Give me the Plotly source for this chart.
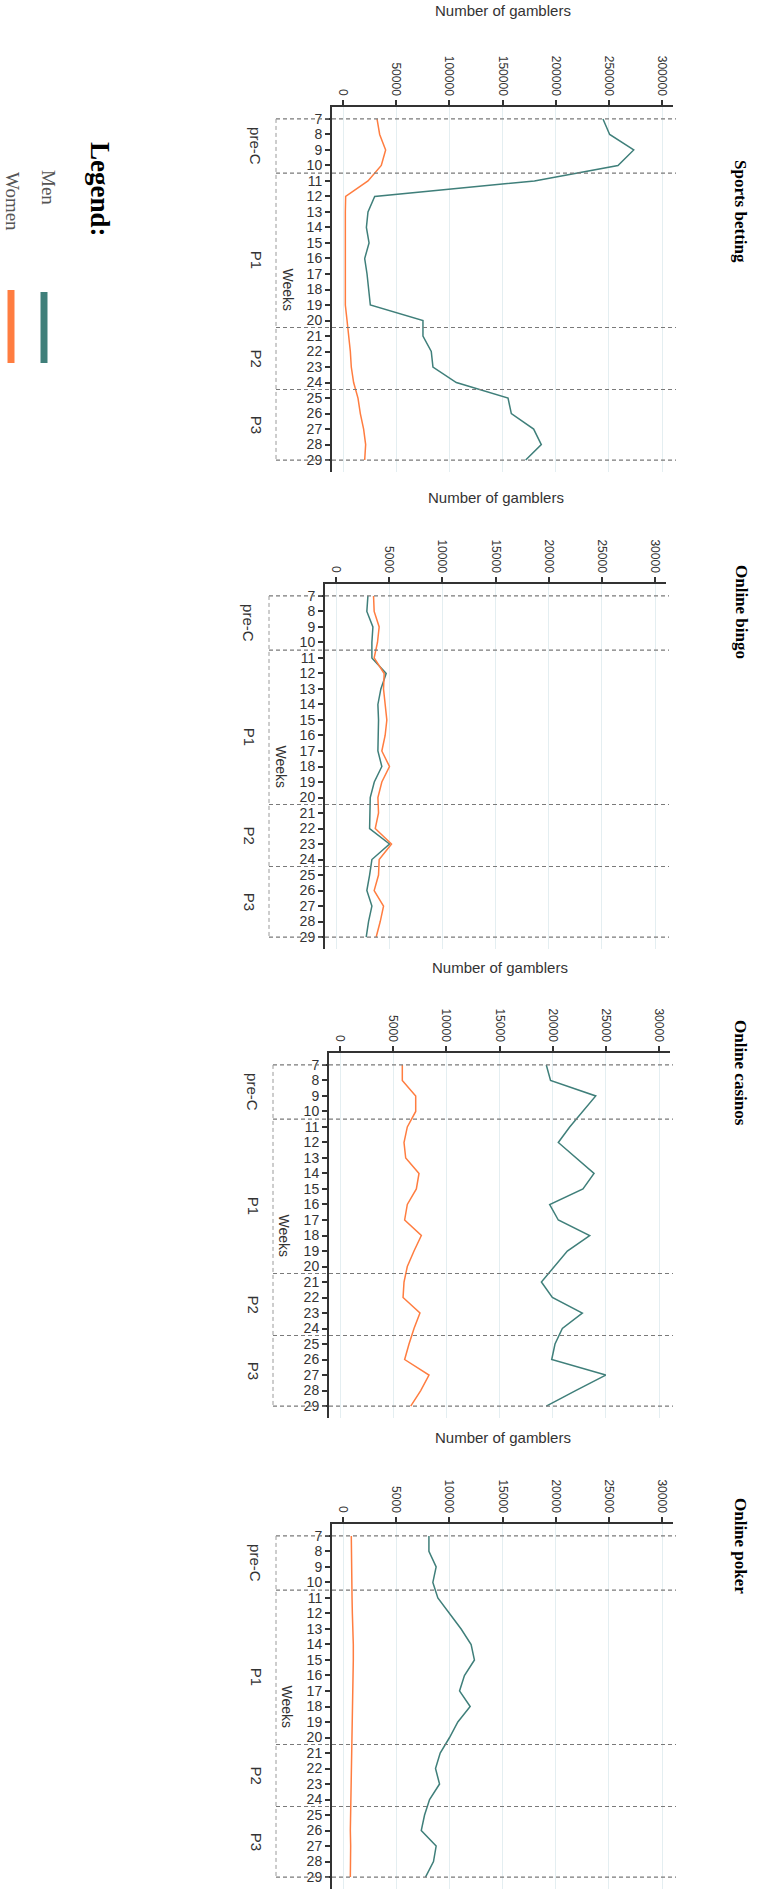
import plotly.graph_objects as go

# ---------------- data ----------------
weeks = list(range(7, 30))
titles = ["Sports betting", "Online bingo", "Online casinos", "Online poker"]
period_labels = ["pre-C", "P1", "P2", "P3"]
period_bounds = [7, 10.5, 20.45, 24.45, 29]
scale_max = [300000, 30000, 30000, 30000]
tick_step = [50000, 5000, 5000, 5000]
series_names = ["Men", "Women"]

sports_men = [244500, 250800, 273400, 258600, 180000, 29800, 23500, 22000, 24500, 20400,
              22600, 24500, 25700, 75200, 75200, 83000, 84600, 106600, 155200, 158300,
              179300, 186500, 171800]
sports_women = [32000, 34500, 40100, 36000, 23500, 2500, 2200, 2200, 2200, 2200,
                2200, 2200, 2200, 3800, 5600, 6900, 7800, 10000, 14100, 16300,
                19400, 21300, 20400]

bingo_men = [3000, 2900, 3470, 3375, 3375, 4720, 4220, 3940, 4000, 3940,
             3940, 4310, 3600, 3220, 3220, 3160, 5030, 3375, 3160, 2900,
             3375, 3060, 2840]
bingo_women = [3530, 3590, 4060, 3900, 3590, 4530, 4470, 4620, 4780, 4620,
               4310, 5030, 4310, 3940, 4000, 3690, 5220, 4060, 4000, 3590,
               4470, 4160, 3780]

casino_men = [19400, 19800, 24050, 22850, 21600, 20530, 22160, 23890, 22850, 19720,
              20530, 23480, 21380, 20130, 18940, 19970, 22790, 20910, 20220, 19910,
              24990, 22160, 19400]
casino_women = [5860, 5860, 7120, 7120, 6330, 6020, 6180, 7430, 7180, 6330,
                6080, 7650, 6960, 6330, 6020, 5930, 7520, 6960, 6490, 6080,
                8370, 7590, 6650]

poker_men = [8080, 8080, 8760, 8450, 8920, 10020, 11110, 12050, 12360, 11420,
             10960, 11960, 10800, 10020, 9140, 8700, 9080, 8140, 7670, 7360,
             8760, 8510, 7760]
poker_women = [780, 780, 810, 810, 850, 880, 940, 970, 970, 940,
               910, 910, 880, 850, 810, 780, 780, 750, 720, 690,
               720, 690, 690]

men_series = [sports_men, bingo_men, casino_men, poker_men]
women_series = [sports_women, bingo_women, casino_women, poker_women]

# ---------------- style / layout ----------------
W, H = 757, 1890
MEN_COLOR = "#3f7f7a"
WOMEN_COLOR = "#ff7d40"
AXIS_COLOR = "#333333"
DASH_COLOR = "#7a7a7a"
GRID_COLOR = "#e4eef1"
SANS = "Liberation Sans, Arial, sans-serif"
SERIF = "Liberation Serif, Times New Roman, serif"

lefts = [332, 325, 329, 332]
tops = [107, 584, 1053, 1524]
title_y = [10, 497, 967, 1437]
panel_title_y = [211, 612, 1073, 1546]
PW, PH = 341, 365


def px(x):
    return x / W


def py(y):
    return 1 - y / H


def note(text, x, y, size, family=SANS, color=AXIS_COLOR, angle=0, xref="paper", yref="paper"):
    return dict(text=text, xref=xref, yref=yref, x=x, y=y, showarrow=False,
                textangle=angle, xanchor="center", yanchor="middle",
                font=dict(family=family, size=size, color=color))


fig = go.Figure()
layout = dict(
    width=W, height=H,
    margin=dict(l=0, r=0, t=0, b=0),
    paper_bgcolor="white", plot_bgcolor="white",
    showlegend=False,
    hovermode=False,
)
shapes = []
annotations = []

for i in range(4):
    k = "" if i == 0 else str(i + 1)
    xa, ya = "x" + k, "y" + k
    M = scale_max[i]
    left, top = lefts[i], tops[i]

    fig.add_trace(go.Scatter(x=men_series[i], y=weeks, mode="lines", name=series_names[0],
                             line=dict(color=MEN_COLOR, width=1.5), xaxis=xa, yaxis=ya))
    fig.add_trace(go.Scatter(x=women_series[i], y=weeks, mode="lines", name=series_names[1],
                             line=dict(color=WOMEN_COLOR, width=1.5), xaxis=xa, yaxis=ya))

    layout["xaxis" + k] = dict(
        domain=[px(left), px(left + PW)],
        anchor=ya, side="top",
        range=[-11 / 319 * M, 330 / 319 * M],
        tickvals=list(range(0, M + 1, tick_step[i])),
        tickformat="d", tickangle=90,
        ticks="outside", ticklen=5, tickwidth=1.5, tickcolor=AXIS_COLOR,
        tickfont=dict(family=SANS, size=12, color=AXIS_COLOR),
        showline=True, linecolor=AXIS_COLOR, linewidth=2,
        showgrid=True, gridcolor=GRID_COLOR, gridwidth=1,
        zeroline=False, fixedrange=True,
    )
    layout["yaxis" + k] = dict(
        domain=[py(top + PH), py(top)],
        anchor=xa,
        range=[29.77, 6.23],
        tickvals=weeks,
        ticks="outside", ticklen=5, tickwidth=1.5, tickcolor=AXIS_COLOR,
        tickfont=dict(family=SANS, size=14, color=AXIS_COLOR),
        showline=True, linecolor=AXIS_COLOR, linewidth=2,
        showgrid=False, zeroline=False, fixedrange=True,
    )

    yref = ya
    dash_left = px(left - 56)
    # horizontal dashed period boundaries
    for b in period_bounds:
        shapes.append(dict(type="line", xref="paper", yref=yref,
                           x0=dash_left, x1=px(left + 344), y0=b, y1=b,
                           line=dict(color=DASH_COLOR, width=1.2, dash="4px,3px")))
    # vertical dashed bracket line
    shapes.append(dict(type="line", xref="paper", yref=yref,
                       x0=dash_left, x1=dash_left, y0=period_bounds[0], y1=period_bounds[-1],
                       line=dict(color="#9a9a9a", width=1, dash="4px,3px")))
    # period labels
    for j, lab in enumerate(period_labels):
        yc = (period_bounds[j] + period_bounds[j + 1]) / 2
        if lab == "P1":
            yc += 0.6
        annotations.append(note(lab, px(left - 76), yc, 15, angle=90, yref=yref))
    annotations.append(note("Weeks", px(left - 45), 18, 14, angle=90, yref=yref))
    # value axis title
    annotations.append(note("Number of gamblers", px(left + 171), py(title_y[i]), 15))
    # panel title
    annotations.append(note("<b>" + titles[i] + "</b>", px(741), py(panel_title_y[i]), 17,
                            family=SERIF, color="#000000", angle=90))

# legend (drawn manually, rotated like the rest of the figure)
annotations.append(note("<b>Legend:</b>", px(100), py(189), 27, family=SERIF,
                        color="#000000", angle=90))
annotations.append(note(series_names[0], px(48), py(187), 19, family=SERIF,
                        color="#555555", angle=90))
annotations.append(note(series_names[1], px(12), py(201), 19, family=SERIF,
                        color="#555555", angle=90))
shapes.append(dict(type="line", xref="paper", yref="paper",
                   x0=px(44), x1=px(44), y0=py(292), y1=py(363),
                   line=dict(color=MEN_COLOR, width=7)))
shapes.append(dict(type="line", xref="paper", yref="paper",
                   x0=px(11), x1=px(11), y0=py(290), y1=py(363),
                   line=dict(color=WOMEN_COLOR, width=7)))

layout["shapes"] = shapes
layout["annotations"] = annotations
fig.update_layout(**layout)

fig.write_html(
    "out.html",
    config={"displayModeBar": False},
    post_script="document.body.style.margin='0';document.body.style.overflow='hidden';",
)
